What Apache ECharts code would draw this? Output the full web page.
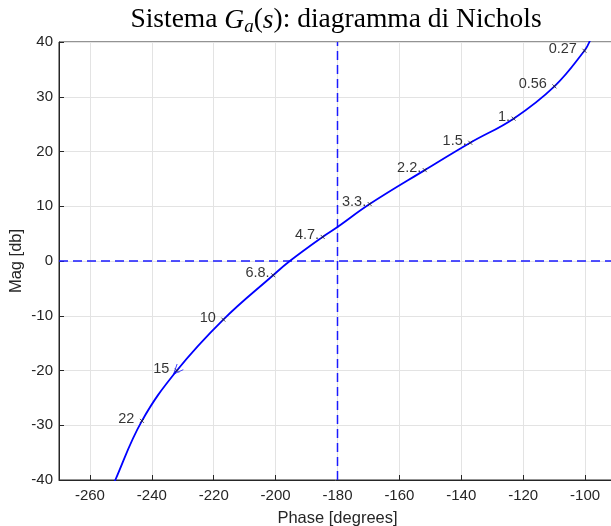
<!DOCTYPE html>
<html>
<head>
<meta charset="utf-8">
<script src="https://cdn.jsdelivr.net/npm/echarts@6/dist/echarts.min.js"></script>
<style>
  html, body { margin: 0; padding: 0; background: #fff; }
  #nichols { width: 611px; height: 526px; }
</style>
</head>
<body>
<div id="nichols"></div>
<script>
// curva di Nichols (fase in gradi, modulo in dB)
var phaseDeg = [-254.6, -251.8, -243.2, -231.9, -216.9, -200.8, -195.4, -184.8, -180.0,
  -169.6, -151.8, -137.1, -123.1, -109.9, -100.2, -98.6, -96.8];
var magDb = [-44.0, -40.0, -29.2, -20.0, -10.7, -2.6, 0.0, 4.4, 6.2,
  10.4, 16.6, 21.6, 26.0, 31.9, 38.4, 40.0, 43.0];

// punti marcati con la pulsazione
var freqLabels = ['22', '15', '10', '6.8.', '4.7.', '3.3.', '2.2.', '1.5.', '1.', '0.56', '0.27'];
var freqPhase = [-243.2, -231.9, -216.9, -200.8, -184.8, -169.6, -151.8, -137.1, -123.1, -109.9, -100.2];
var freqMag = [-29.2, -20.0, -10.7, -2.6, 4.4, 10.4, 16.6, 21.6, 26.0, 31.9, 38.4];

// linee di riferimento (-180 gradi, 0 dB) e limiti degli assi
var critPhase = -180;
var zeroDb = 0;
var phaseRange = [-270, -90];
var magRange = [-40, 40];

var markerColors = ['#7E2F8E', '#EDB120', '#D95319', '#0072BD', '#A2142F', '#4DBEEE',
  '#77AC30', '#7E2F8E', '#EDB120', '#D95319', '#0072BD'];
var axisColor = '#262626';

var curve = phaseDeg.map(function (p, i) { return [p, magDb[i]]; });
var marks = freqPhase.map(function (p, i) { return [p, freqMag[i], freqLabels[i]]; });
var arrowIdx = freqLabels.indexOf('15');

var serif = { fontFamily: 'Liberation Serif', fontWeight: 'normal', color: '#000', verticalAlign: 'bottom' };
var refStyle = { color: '#1a1aff', type: [9, 5], width: 1.5 };

var chart = echarts.init(document.getElementById('nichols'));
var option = {
  animation: false,
  backgroundColor: '#fff',
  title: {
    text: '{n|Sistema }{i|G}{sub|a}{n|(}{i|s}{n|): diagramma di Nichols}',
    left: 336,
    top: 9,
    padding: 0,
    textAlign: 'center',
    textStyle: {
      fontWeight: 'normal',
      rich: {
        n: Object.assign({}, serif, { fontSize: 27.5, lineHeight: 27, padding: [0, 0, 2, 0] }),
        i: Object.assign({}, serif, { fontSize: 27.5, lineHeight: 27, fontStyle: 'italic', padding: [0, 0, 2, 0] }),
        sub: Object.assign({}, serif, { fontSize: 19, lineHeight: 19, fontStyle: 'italic' })
      }
    }
  },
  grid: {
    left: 59,
    right: -5,
    top: 42,
    bottom: 46,
    containLabel: false,
    outerBoundsMode: 'none',
    show: true,
    borderColor: axisColor,
    borderWidth: 1
  },
  xAxis: {
    type: 'value',
    min: phaseRange[0],
    max: phaseRange[1],
    splitNumber: 9,
    name: 'Phase [degrees]',
    nameLocation: 'middle',
    nameGap: 30,
    nameMoveOverlap: false,
    nameTextStyle: { fontFamily: 'Liberation Sans', fontSize: 16.5, color: axisColor },
    axisLine: { onZero: false, lineStyle: { color: axisColor, width: 1 } },
    axisTick: { inside: true, length: 5, lineStyle: { color: axisColor } },
    axisLabel: {
      showMinLabel: false,
      showMaxLabel: false,
      margin: 8,
      fontFamily: 'Liberation Sans',
      fontSize: 15,
      color: axisColor
    },
    splitLine: { lineStyle: { color: '#e3e3e3', width: 1 } }
  },
  yAxis: {
    type: 'value',
    min: magRange[0],
    max: magRange[1],
    interval: 10,
    name: 'Mag [db]',
    nameLocation: 'middle',
    nameGap: 34,
    nameMoveOverlap: false,
    nameTextStyle: { fontFamily: 'Liberation Sans', fontSize: 16.5, color: axisColor },
    axisLine: { show: true, onZero: false, lineStyle: { color: axisColor, width: 1 } },
    axisTick: { show: true, inside: true, length: 5, lineStyle: { color: axisColor } },
    axisLabel: {
      margin: 6,
      fontFamily: 'Liberation Sans',
      fontSize: 15,
      color: axisColor
    },
    splitLine: { lineStyle: { color: '#e3e3e3', width: 1 } }
  },
  series: [
    {
      name: 'ref180',
      type: 'line',
      data: [[critPhase, magRange[0]], [critPhase, magRange[1]]],
      showSymbol: false,
      silent: true,
      lineStyle: refStyle,
      z: 2
    },
    {
      name: 'ref0',
      type: 'line',
      data: [[phaseRange[0], zeroDb], [phaseRange[1], zeroDb]],
      showSymbol: false,
      silent: true,
      lineStyle: refStyle,
      z: 2
    },
    {
      name: 'Ga',
      type: 'line',
      data: curve,
      smooth: 0.4,
      showSymbol: false,
      clip: true,
      lineStyle: { color: '#0000ff', width: 1.8 },
      z: 3
    },
    {
      name: 'freq',
      type: 'scatter',
      data: marks,
      symbol: 'path://M0,0L10,10M10,0L0,10',
      symbolSize: 4,
      itemStyle: {
        color: 'transparent',
        borderWidth: 1,
        borderColor: function (p) { return markerColors[p.dataIndex]; }
      },
      label: {
        show: true,
        position: 'left',
        distance: 1,
        offset: [0, -2],
        fontFamily: 'Liberation Sans',
        fontSize: 14.5,
        color: '#000',
        formatter: function (p) {
          var t = p.value[2];
          return t.charAt(t.length - 1) === '.' ? t : t + '\u00a0';
        }
      },
      z: 4
    },
    {
      name: 'arrow',
      type: 'scatter',
      data: [[freqPhase[arrowIdx], freqMag[arrowIdx]]],
      symbol: 'path://M0,0L10,4.2L0,8.4',
      symbolSize: [10, 8.4],
      symbolRotate: 228,
      itemStyle: { color: 'transparent', borderColor: '#0000ff', borderWidth: 1 },
      z: 5
    }
  ]
};
chart.setOption(option);
</script>
</body>
</html>
